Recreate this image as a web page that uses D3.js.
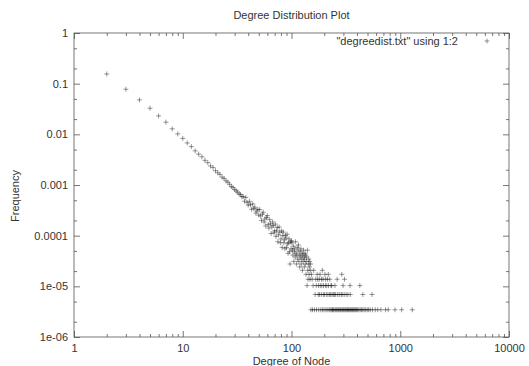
<!DOCTYPE html>
<html>
<head>
<meta charset="utf-8">
<script src="https://cdn.jsdelivr.net/npm/d3@7"></script>
<style>
    body { margin: 0; background: #fff; }
    svg text { font-family: "Liberation Sans", Arial, Helvetica, sans-serif; fill: #333; }
</style>
</head>
<body>
<div id="chart"></div>
<script>

// degreedist.txt : degree, number of nodes with that degree
var totalNodes = 290000;

var degrees = [
    2, 3, 4, 5, 6, 7, 8, 9, 10,
    11, 12, 13, 14, 15, 16, 17, 18, 19, 20,
    21, 22, 23, 24, 25, 26, 27, 28, 29, 30,
    31, 32, 33, 34, 35, 36, 37, 38, 39, 40,
    41, 42, 43, 44, 45, 46, 47, 48, 49, 50,
    51, 52, 53, 54, 55, 56, 57, 58, 59, 60,
    61, 62, 63, 64, 65, 66, 67, 68, 69, 70,
    71, 72, 73, 74, 75, 76, 77, 78, 79, 80,
    81, 82, 83, 84, 85, 86, 87, 88, 89, 90,
    91, 92, 93, 94, 95, 96, 97, 98, 99, 100,
    101, 102, 103, 104, 105, 106, 107, 108, 109, 110,
    111, 112, 113, 114, 115, 116, 117, 118, 119, 120,
    121, 122, 123, 124, 125, 126, 127, 128, 129, 130,
    131, 132, 133, 134, 135, 136, 137, 138, 139, 140,
    141, 142, 143, 144, 145, 146, 147, 148, 149, 150,
    151, 153, 155, 156, 158, 160, 163, 165, 167, 169,
    170, 172, 174, 176, 177, 178, 180, 181, 183, 184,
    186, 188, 189, 190, 192, 193, 195, 196, 197, 199,
    201, 203, 205, 206, 207, 209, 211, 213, 214, 216,
    218, 219, 221, 223, 225, 226, 229, 231, 232, 234,
    236, 238, 241, 243, 245, 249, 251, 252, 255, 257,
    262, 263, 266, 268, 273, 275, 279, 284, 286, 290,
    291, 293, 296, 298, 302, 305, 307, 309, 315, 318,
    322, 328, 330, 334, 341, 345, 347, 349, 356, 364,
    371, 379, 388, 396, 405, 416, 425, 428, 440, 452,
    453, 466, 481, 497, 512, 530, 550, 556, 589, 621,
    664, 731, 776, 895, 1030, 1290
];

var counts = [
    45000, 22500, 13900, 9500, 6700, 5040, 3720, 2960, 2410,
    1960, 1660, 1370, 1180, 1045, 890, 800, 690, 640, 555,
    505, 470, 415, 390, 350, 330, 300, 270, 258, 236,
    222, 209, 193, 188, 170, 171, 139, 164, 131, 116,
    138, 118, 96, 123, 100, 106, 81, 89, 96, 74,
    95, 71, 58, 77, 84, 54, 62, 45, 66, 72,
    48, 41, 60, 50, 32, 43, 54, 46, 33, 36,
    49, 28, 36, 42, 22, 30, 43, 34, 21, 25,
    36, 17, 29, 34, 21, 24, 16, 29, 26, 17,
    31, 20, 13, 21, 25, 14, 8, 22, 16, 23,
    21, 15, 12, 18, 9, 14, 16, 11, 22, 13,
    8, 12, 17, 10, 15, 19, 9, 12, 7, 14,
    11, 16, 8, 10, 13, 6, 12, 9, 15, 11,
    7, 10, 13, 8, 12, 5, 9, 11, 3, 15,
    6, 4, 8, 10, 5, 7, 9, 4, 6, 8,
    1, 5, 4, 1, 3, 6, 1, 2, 4, 3,
    1, 5, 4, 2, 3, 1, 4, 2, 5, 3,
    1, 2, 4, 3, 6, 1, 4, 2, 3, 1,
    2, 5, 3, 4, 1, 2, 3, 1, 4, 2,
    5, 3, 1, 2, 4, 1, 2, 3, 1, 3,
    2, 1, 1, 2, 1, 2, 3, 1, 2, 1,
    1, 4, 2, 1, 1, 2, 1, 1, 2, 5,
    1, 2, 1, 3, 1, 2, 4, 1, 1, 2,
    1, 1, 2, 1, 1, 3, 2, 1, 1, 1,
    1, 1, 1, 1, 1, 1, 3, 1, 1, 1,
    2, 1, 1, 1, 1, 1, 2, 1, 1, 1,
    1, 1, 1, 1, 1, 1
];

var xMajorTicks = [1, 10, 100, 1000, 10000];
var xTickLabels = ["1", "10", "100", "1000", "10000"];
var yMajorTicks = [1, 0.1, 0.01, 0.001, 0.0001, 0.00001, 0.000001];
var yTickLabels = ["1", "0.1", "0.01", "0.001", "0.0001", "1e-05", "1e-06"];

var chartTitle = "Degree Distribution Plot";
var xTitle = "Degree of Node";
var yTitle = "Frequency";
var legendLabel = "\"degreedist.txt\" using 1:2";

var width = 529;
var height = 366;
var plot = { x0: 74, x1: 509, y0: 33, y1: 337 };
var axisColor = "#555";

var svg = d3.select("#chart").append("svg")
    .attr("width", width)
    .attr("height", height);

var x = d3.scaleLog().domain([1, 10000]).range([plot.x0, plot.x1]);
var y = d3.scaleLog().domain([0.000001, 1]).range([plot.y1, plot.y0]);

// minor ticks: 2..9 on x, 2 and 5 on y
var xMinor = [];
xMajorTicks.slice(0, -1).forEach(function (t) {
    for (var k = 2; k < 10; k++) xMinor.push(t * k);
});
var yMinor = [];
yMajorTicks.slice(1).forEach(function (t) {
    yMinor.push(t * 2, t * 5);
});

function styleAxis(g) {
    g.select(".domain").remove();
    g.selectAll("line").attr("stroke", axisColor).attr("stroke-width", 0.8);
    g.selectAll("text").attr("font-size", "11px").attr("fill", "#333");
}

function addAxis(axis, tx, ty) {
    svg.append("g")
        .attr("transform", "translate(" + tx + "," + ty + ")")
        .call(axis)
        .call(styleAxis);
}

// bottom + mirrored top
addAxis(d3.axisBottom(x).tickValues(xMajorTicks).tickSize(-6).tickPadding(7)
    .tickFormat(function (d, i) { return xTickLabels[i]; }), 0, plot.y1);
addAxis(d3.axisBottom(x).tickValues(xMinor).tickSize(-3).tickFormat(""), 0, plot.y1);
addAxis(d3.axisTop(x).tickValues(xMajorTicks).tickSize(-6).tickFormat(""), 0, plot.y0);
addAxis(d3.axisTop(x).tickValues(xMinor).tickSize(-3).tickFormat(""), 0, plot.y0);

// left + mirrored right
addAxis(d3.axisLeft(y).tickValues(yMajorTicks).tickSize(-6).tickPadding(6)
    .tickFormat(function (d, i) { return yTickLabels[i]; }), plot.x0, 0);
addAxis(d3.axisLeft(y).tickValues(yMinor).tickSize(-3).tickFormat(""), plot.x0, 0);
addAxis(d3.axisRight(y).tickValues(yMajorTicks).tickSize(-6).tickFormat(""), plot.x1, 0);
addAxis(d3.axisRight(y).tickValues(yMinor).tickSize(-3).tickFormat(""), plot.x1, 0);

// frame
svg.append("rect")
    .attr("x", plot.x0)
    .attr("y", plot.y0)
    .attr("width", plot.x1 - plot.x0)
    .attr("height", plot.y1 - plot.y0)
    .attr("fill", "none")
    .attr("stroke", axisColor)
    .attr("stroke-width", 0.8);

// points
var plus = "M-2.5,0H2.5M0,-2.5V2.5";
var points = degrees.map(function (d, i) {
    return { degree: d, freq: counts[i] / totalNodes };
});

svg.append("g")
    .selectAll("path")
    .data(points)
    .enter()
    .append("path")
    .attr("d", plus)
    .attr("transform", function (d) { return "translate(" + x(d.degree) + "," + y(d.freq) + ")"; })
    .attr("fill", "none")
    .attr("stroke", "#000")
    .attr("stroke-opacity", 0.45)
    .attr("stroke-width", 0.9);

// legend
svg.append("text")
    .attr("x", 458)
    .attr("y", 45)
    .attr("text-anchor", "end")
    .attr("font-size", "11px")
    .text(legendLabel);
svg.append("path")
    .attr("d", plus)
    .attr("transform", "translate(487,41)")
    .attr("fill", "none")
    .attr("stroke", "#000")
    .attr("stroke-opacity", 0.45)
    .attr("stroke-width", 0.9);

// titles
svg.append("text")
    .attr("x", (plot.x0 + plot.x1) / 2)
    .attr("y", 19)
    .attr("text-anchor", "middle")
    .attr("font-size", "11px")
    .text(chartTitle);

svg.append("text")
    .attr("x", (plot.x0 + plot.x1) / 2)
    .attr("y", 365)
    .attr("text-anchor", "middle")
    .attr("font-size", "11px")
    .text(xTitle);

svg.append("text")
    .attr("transform", "translate(19," + 196 + ") rotate(-90)")
    .attr("text-anchor", "middle")
    .attr("font-size", "11px")
    .text(yTitle);

</script>
</body>
</html>
